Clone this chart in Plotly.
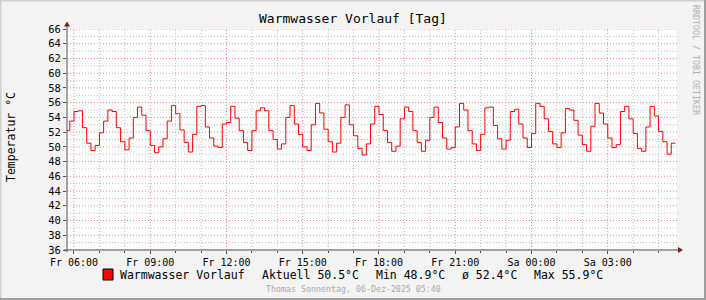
import plotly.graph_objects as go
import pandas as pd

# ---- data (10-minute samples starting Fr 05:40) ----
series_start = "2025-12-05 05:40"
step_minutes = 10
temps = [
    52.2, 53.5, 54.8, 54.9, 52.6, 50.5, 49.5, 50.2, 51.9, 53.5, 55.0, 54.8,
    52.6, 50.7, 49.6, 51.2, 54.0, 55.4, 54.3, 52.2, 50.2, 49.2, 50.0, 51.1,
    53.5, 55.6, 54.5, 52.3, 50.6, 49.3, 51.7, 55.5, 55.6, 52.7, 51.2, 50.1,
    49.9, 53.1, 53.3, 55.5, 53.9, 52.2, 50.6, 49.5, 52.2, 54.9, 55.3, 54.9,
    52.2, 51.0, 49.7, 50.4, 54.0, 55.6, 53.1, 51.7, 50.0, 49.5, 53.0, 55.9,
    54.6, 52.4, 50.7, 49.3, 50.5, 54.0, 55.7, 53.0, 51.5, 49.8, 48.9, 50.4,
    53.1, 55.5, 54.4, 52.2, 50.6, 49.4, 50.1, 53.8, 55.4, 54.8, 52.2, 50.6,
    49.4, 50.9, 54.0, 55.4, 53.3, 51.2, 49.7, 49.9, 52.7, 55.9, 55.0, 52.2,
    50.4, 49.5, 51.7, 55.3, 55.4, 52.9, 51.1, 49.7, 50.9, 54.8, 55.1, 53.1,
    51.2, 49.9, 51.8, 55.9, 55.5, 53.8, 52.1, 50.4, 49.9, 51.9, 55.2, 55.0,
    53.6, 51.6, 50.3, 49.4, 52.8, 55.9, 54.6, 53.1, 51.2, 49.9, 50.3, 54.8,
    55.5, 53.8, 51.8, 49.8, 49.4, 52.7, 55.5, 54.2, 52.1, 50.7, 49.0, 50.5,
]

x_tick_times = [
    "2025-12-05 06:00", "2025-12-05 09:00", "2025-12-05 12:00", "2025-12-05 15:00",
    "2025-12-05 18:00", "2025-12-05 21:00", "2025-12-06 00:00", "2025-12-06 03:00",
]
x_tick_labels = ["Fr 06:00", "Fr 09:00", "Fr 12:00", "Fr 15:00",
                 "Fr 18:00", "Fr 21:00", "Sa 00:00", "Sa 03:00"]
y_tick_vals = [36, 38, 40, 42, 44, 46, 48, 50, 52, 54, 56, 58, 60, 62, 64, 66]
x_range = ["2025-12-05 05:43:30", "2025-12-06 05:43:30"]
y_range = [36, 66]

series_name = "Warmwasser Vorlauf"
legend_stats = ["Aktuell 50.5°C", "Min 48.9°C", "ø 52.4°C", "Max 55.9°C"]
title_text = "Warmwasser Vorlauf [Tag]"
y_title = "Temperatur °C"
footer_text = "Thomas Sonnentag, 06-Dez-2025 05:40"
watermark_text = "RRDTOOL / TOBI OETIKER"

# ---- build series (step line, last step held to its end) ----
t0 = pd.Timestamp(series_start)
times = [t0 + pd.Timedelta(minutes=step_minutes * i) for i in range(len(temps))]
xs = times + [times[-1] + pd.Timedelta(minutes=step_minutes)]
ys = temps + [temps[-1]]

# minor grid positions (hourly / every unit), excluding major positions
major_x = set(pd.Timestamp(t) for t in x_tick_times)
hours = pd.date_range("2025-12-05 06:00", "2025-12-06 05:00", freq="h")
minor_x = [h for h in hours if h not in major_x]
minor_y = [v for v in range(y_range[0], y_range[1] + 1) if v not in y_tick_vals]

W, H = 706, 300
L, R, T, B = 67, 29, 29, 50
PW, PH = W - L - R, H - T - B


def px(x):
    return (x - L) / PW


def py(y):
    return (H - B - y) / PH


FONT = "DejaVu Sans Mono"
BG = "#F3F3F3"
MAJOR = "#EC8C8C"
MINOR = "#BDBDBD"
AXIS = "#505050"
ARROW = "#7A1A1A"
DASH = "1px,2px"

fig = go.Figure()

fig.update_layout(
    width=W, height=H,
    margin=dict(l=L, r=R, t=T, b=B, pad=0),
    paper_bgcolor=BG, plot_bgcolor="#FFFFFF",
    font=dict(family=FONT, size=10, color="#000000"),
    showlegend=False,
)

fig.update_xaxes(
    type="date", range=x_range,
    tickmode="array", tickvals=x_tick_times, ticktext=x_tick_labels,
    showgrid=False,
    ticks="outside", ticklen=3, tickcolor=AXIS,
    tickfont=dict(family=FONT, size=10, color="#000000"),
    minor=dict(tickmode="array", tickvals=minor_x, showgrid=False,
               ticks="outside", ticklen=2, tickcolor=AXIS),
    showline=False, zeroline=False, fixedrange=True,
)
fig.update_yaxes(
    range=y_range, tickmode="array", tickvals=y_tick_vals,
    showgrid=False,
    ticks="outside", ticklen=3, tickcolor=AXIS,
    tickfont=dict(family=FONT, size=10.5, color="#000000"),
    showline=False, zeroline=False, fixedrange=True,
)

# grid lines drawn as dotted lines in data coordinates (minor first, major on top)
for xv in minor_x:
    fig.add_trace(go.Scatter(x=[xv, xv], y=y_range, mode="lines", hoverinfo="skip",
                             line=dict(color=MINOR, width=1, dash=DASH), showlegend=False))
for yv in minor_y:
    fig.add_trace(go.Scatter(x=x_range, y=[yv, yv], mode="lines", hoverinfo="skip",
                             line=dict(color=MINOR, width=1, dash=DASH), showlegend=False))
for xv in x_tick_times:
    fig.add_trace(go.Scatter(x=[xv, xv], y=y_range, mode="lines", hoverinfo="skip",
                             line=dict(color=MAJOR, width=1, dash=DASH), showlegend=False))
for yv in y_tick_vals:
    fig.add_trace(go.Scatter(x=x_range, y=[yv, yv], mode="lines", hoverinfo="skip",
                             line=dict(color=MAJOR, width=1, dash=DASH), showlegend=False))

fig.add_trace(go.Scatter(
    x=xs, y=ys, mode="lines", line=dict(color="#FF0000", width=1, shape="hv"),
    showlegend=False, hoverinfo="skip", cliponaxis=True,
))

shapes = []
# frame (3D look)
shapes.append(dict(type="line", xref="paper", yref="paper", x0=px(0), x1=px(W), y0=py(0.5), y1=py(0.5),
                   line=dict(color="#CFCFCF", width=2)))
shapes.append(dict(type="line", xref="paper", yref="paper", x0=px(0.5), x1=px(0.5), y0=py(0), y1=py(H),
                   line=dict(color="#CFCFCF", width=2)))
shapes.append(dict(type="line", xref="paper", yref="paper", x0=px(0), x1=px(W), y0=py(H - 1), y1=py(H - 1),
                   line=dict(color="#9E9E9E", width=2)))
shapes.append(dict(type="line", xref="paper", yref="paper", x0=px(W - 1), x1=px(W - 1), y0=py(0), y1=py(H),
                   line=dict(color="#9E9E9E", width=2)))
# axes lines
shapes.append(dict(type="line", xref="paper", yref="paper", x0=px(L), x1=px(L), y0=py(H - B + 2), y1=py(24),
                   line=dict(color=AXIS, width=1)))
shapes.append(dict(type="line", xref="paper", yref="paper", x0=px(L - 3), x1=px(W - R + 2), y0=py(H - B), y1=py(H - B),
                   line=dict(color=AXIS, width=1)))
# arrows
shapes.append(dict(type="path", xref="paper", yref="paper", xsizemode="pixel", ysizemode="pixel",
                   xanchor=px(L), yanchor=py(21.5),
                   path="M -3,-5 L 3,-5 L 0,0 Z", fillcolor=ARROW, line=dict(width=0)))
shapes.append(dict(type="path", xref="paper", yref="paper", xsizemode="pixel", ysizemode="pixel",
                   xanchor=px(683), yanchor=py(H - B),
                   path="M -5,-3 L -5,3 L 0,0 Z", fillcolor=ARROW, line=dict(width=0)))
# legend swatch
shapes.append(dict(type="rect", xref="paper", yref="paper", x0=px(103), x1=px(113), y0=py(280), y1=py(269),
                   fillcolor="#FF0000", line=dict(color="#000000", width=1)))

annotations = []
annotations.append(dict(text=title_text, xref="paper", yref="paper", x=px(353), y=py(19),
                        xanchor="center", yanchor="middle", showarrow=False,
                        font=dict(family=FONT, size=13, color="#000000")))
annotations.append(dict(text=y_title, xref="paper", yref="paper", x=px(11), y=py(137),
                        xanchor="center", yanchor="middle", showarrow=False, textangle=-90,
                        font=dict(family=FONT, size=11.5, color="#000000")))
annotations.append(dict(text=watermark_text, xref="paper", yref="paper", x=px(696), y=py(60),
                        xanchor="center", yanchor="middle", showarrow=False, textangle=90,
                        font=dict(family=FONT, size=8.3, color="#B0B0B0")))
annotations.append(dict(text=footer_text, xref="paper", yref="paper", x=px(353), y=py(289),
                        xanchor="center", yanchor="middle", showarrow=False,
                        font=dict(family=FONT, size=8.3, color="#A8A8A8")))
legend_x = [118, 260, 374, 460, 531.7]
legend_texts = [series_name] + legend_stats
for lx, lt in zip(legend_x, legend_texts):
    annotations.append(dict(text=lt, xref="paper", yref="paper", x=px(lx), y=py(275),
                            xanchor="left", yanchor="middle", showarrow=False,
                            font=dict(family=FONT, size=11.5, color="#000000")))

fig.update_layout(shapes=shapes, annotations=annotations)
fig.write_html("out.html")
